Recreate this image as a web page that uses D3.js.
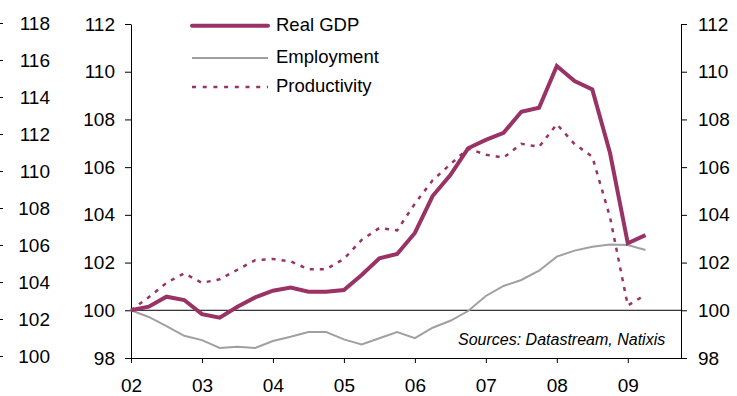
<!DOCTYPE html>
<html>
<head>
<meta charset="utf-8">
<script src="https://cdn.jsdelivr.net/npm/d3@7"></script>
<style>
  html, body { margin: 0; padding: 0; background: #fff; }
  svg { display: block; font-family: "Liberation Sans", Arial, sans-serif; }
</style>
</head>
<body>
<svg id="chart" width="737" height="396"></svg>
<script>
// ---- data ----
const quarters = ["2002Q1","2002Q2","2002Q3","2002Q4","2003Q1","2003Q2","2003Q3","2003Q4",
  "2004Q1","2004Q2","2004Q3","2004Q4","2005Q1","2005Q2","2005Q3","2005Q4",
  "2006Q1","2006Q2","2006Q3","2006Q4","2007Q1","2007Q2","2007Q3","2007Q4",
  "2008Q1","2008Q2","2008Q3","2008Q4","2009Q1","2009Q2"];
const realGDP = [100.0, 100.15, 100.57, 100.43, 99.84, 99.69, 100.15, 100.54, 100.82, 100.95,
  100.78, 100.78, 100.85, 101.48, 102.18, 102.36, 103.24, 104.79, 105.67, 106.79,
  107.14, 107.44, 108.32, 108.49, 110.24, 109.61, 109.26, 106.59, 102.81, 103.15];
const employment = [100.0, 99.72, 99.34, 98.93, 98.75, 98.42, 98.47, 98.42, 98.71, 98.89,
  99.09, 99.09, 98.78, 98.57, 98.83, 99.09, 98.83, 99.27, 99.56, 99.97,
  100.6, 101.02, 101.27, 101.66, 102.25, 102.5, 102.66, 102.76, 102.74, 102.53];
const productivity = [100.0, 100.55, 101.15, 101.55, 101.15, 101.3, 101.7, 102.1, 102.15, 102.05,
  101.72, 101.72, 102.15, 102.95, 103.45, 103.35, 104.47, 105.45, 106.12, 106.78,
  106.52, 106.4, 106.98, 106.85, 107.8, 106.97, 106.44, 103.9, 100.2, 100.65];
const yearTicks = [2002, 2003, 2004, 2005, 2006, 2007, 2008, 2009];
const yearLabels = ["02", "03", "04", "05", "06", "07", "08", "09"];
const yTicks = [98, 100, 102, 104, 106, 108, 110, 112];
const outerTicks = [100, 102, 104, 106, 108, 110, 112, 114, 116, 118];
const seriesNames = ["Real GDP", "Employment", "Productivity"];
const sourceText = "Sources: Datastream, Natixis";

// ---- layout ----
const svg = d3.select("#chart");
const plotL = 131, plotR = 681, plotT = 24, plotB = 358;
const purple = "#993366", grey = "#a0a0a0";

const qTime = q => +q.slice(0, 4) + (+q.slice(5) - 1) * 0.25;
const x = d3.scaleLinear().domain([2002, 2009.75]).range([plotL, plotR]);
const y = d3.scaleLinear().domain([98, 112]).range([plotB, plotT]);
const yOuter = d3.scaleLinear().domain([100, 118]).range([356, 23]);

// outer (cut-off) axis at far left
const gOuter = svg.append("g").attr("transform", "translate(3,0)")
  .call(d3.axisLeft(yOuter).tickValues(outerTicks).tickSize(4).tickSizeOuter(0).tickPadding(0));
gOuter.select(".domain").remove();
gOuter.selectAll("text").attr("x", 47).attr("text-anchor", "end")
  .style("font-size", "19px").attr("fill", "#000").attr("font-family", "Liberation Sans, Arial, sans-serif");
gOuter.selectAll("line").attr("stroke", "#000");

// left axis
const gL = svg.append("g").attr("transform", `translate(${plotL},0)`)
  .call(d3.axisLeft(y).tickValues(yTicks).tickSize(6).tickSizeOuter(0).tickPadding(10));
// right axis
const gR = svg.append("g").attr("transform", `translate(${plotR},0)`)
  .call(d3.axisRight(y).tickValues(yTicks).tickSize(6).tickSizeOuter(0).tickPadding(11));
// bottom axis
const gB = svg.append("g").attr("transform", `translate(0,${plotB})`)
  .call(d3.axisBottom(x).tickValues(yearTicks).tickFormat((d, i) => yearLabels[i])
    .tickSize(5).tickSizeOuter(0).tickPadding(16));

[gL, gR, gB].forEach(g => {
  g.selectAll("text").style("font-size", "19px").attr("fill", "#000")
    .attr("font-family", "Liberation Sans, Arial, sans-serif");
  g.selectAll("line, path").attr("stroke", "#000");
});

// 100 reference line
svg.append("line")
  .attr("x1", plotL).attr("x2", plotR)
  .attr("y1", y(100)).attr("y2", y(100))
  .attr("stroke", "#000").attr("stroke-width", 1);

const line = vals => d3.line()
  .x((d, i) => x(qTime(quarters[i])))
  .y(d => y(d))(vals);

svg.append("path").attr("d", line(employment))
  .attr("fill", "none").attr("stroke", grey).attr("stroke-width", 2);
svg.append("path").attr("d", line(productivity))
  .attr("fill", "none").attr("stroke", purple).attr("stroke-width", 2.5)
  .attr("stroke-dasharray", "4,6");
svg.append("path").attr("d", line(realGDP))
  .attr("fill", "none").attr("stroke", purple).attr("stroke-width", 4)
  .attr("stroke-linejoin", "miter");

// legend
const legY = [25.7, 58, 87];
const legBase = [30.5, 62.5, 91.5];
const legStyles = [
  { stroke: purple, w: 4, dash: null },
  { stroke: grey, w: 2, dash: null },
  { stroke: purple, w: 2.5, dash: "4,6.7" }
];
seriesNames.forEach((name, i) => {
  const s = legStyles[i];
  const l = svg.append("line").attr("x1", 192).attr("x2", 268)
    .attr("y1", legY[i]).attr("y2", legY[i])
    .attr("stroke", s.stroke).attr("stroke-width", s.w);
  if (s.dash) l.attr("stroke-dasharray", s.dash);
  if (i === 0) l.attr("stroke-linecap", "round");
  svg.append("text").attr("x", 276).attr("y", legBase[i])
    .style("font-size", "18.5px").attr("fill", "#000").text(name);
});

// source
svg.append("text").attr("x", 458).attr("y", 345)
  .style("font-size", "16px").style("font-style", "italic").attr("fill", "#000")
  .text(sourceText);
</script>
</body>
</html>
